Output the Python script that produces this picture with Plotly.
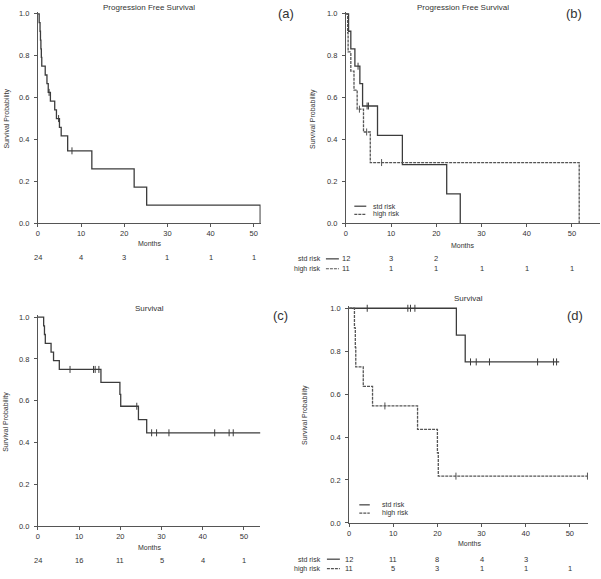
import plotly.graph_objects as go

W, H = 601, 579

# ---------------- data ----------------
# (a) progression free survival, all patients
pfs_t = [0, 0.3, 0.5, 0.6, 0.7, 0.8, 0.9, 1.7, 2.1, 2.4, 2.9, 3.9, 4.3, 5.0, 5.4, 6.9, 12.5, 22.3, 25.2, 51.5]
pfs_s = [1.0, 0.958, 0.917, 0.875, 0.833, 0.792, 0.75, 0.708, 0.667, 0.625, 0.583, 0.542, 0.5, 0.458, 0.417, 0.346, 0.26, 0.173, 0.087, 0.0]
pfs_cens_t = [2.6, 4.8, 7.9]
pfs_cens_s = [0.625, 0.5, 0.346]
pfs_risk = [24, 4, 3, 1, 1, 1]

# (b) progression free survival by risk group
pfs_std_t = [0, 0.6, 1.1, 2.0, 3.1, 3.7, 7.0, 12.5, 22.3, 25.3]
pfs_std_s = [1.0, 0.917, 0.833, 0.75, 0.667, 0.56, 0.42, 0.28, 0.14, 0.0]
pfs_std_cens_t = [2.7, 4.7, 5.0]
pfs_std_cens_s = [0.75, 0.56, 0.56]
pfs_high_t = [0, 0.4, 0.5, 1.1, 1.8, 2.5, 3.9, 5.4, 51.6]
pfs_high_s = [1.0, 0.909, 0.818, 0.727, 0.636, 0.545, 0.436, 0.29, 0.0]
pfs_high_cens_t = [3.0, 4.6, 7.9]
pfs_high_cens_s = [0.545, 0.436, 0.29]
pfs_std_risk = [12, 3, 2]
pfs_high_risk = [11, 1, 1, 1, 1, 1]

# (c) overall survival, all patients
os_t = [0, 1.4, 1.6, 1.8, 3.2, 3.8, 5.2, 15.3, 19.9, 20.1, 24.4, 26.4, 54.0]
os_s = [1.0, 0.958, 0.917, 0.875, 0.833, 0.792, 0.75, 0.688, 0.631, 0.574, 0.51, 0.447, 0.447]
os_cens_t = [7.8, 13.5, 13.9, 14.8, 24.0, 27.6, 28.8, 31.8, 42.9, 46.4, 47.4]
os_cens_s = [0.75, 0.75, 0.75, 0.75, 0.574, 0.447, 0.447, 0.447, 0.447, 0.447, 0.447]
os_risk = [24, 16, 11, 5, 4, 1]

# (d) overall survival by risk group
os_std_t = [0, 24.3, 26.3, 47.6]
os_std_s = [1.0, 0.875, 0.75, 0.75]
os_std_cens_t = [4.1, 13.3, 13.9, 14.9, 27.5, 28.8, 31.8, 42.7, 46.3, 47.0]
os_std_cens_s = [1.0, 1.0, 1.0, 1.0, 0.75, 0.75, 0.75, 0.75, 0.75, 0.75]
os_high_t = [0, 1.2, 1.4, 1.5, 3.2, 5.3, 15.5, 20.0, 20.2, 54.0]
os_high_s = [1.0, 0.909, 0.818, 0.727, 0.636, 0.545, 0.436, 0.327, 0.218, 0.218]
os_high_cens_t = [8.1, 24.2, 54.0]
os_high_cens_s = [0.545, 0.218, 0.218]
os_std_risk = [12, 11, 8, 4, 3]
os_high_risk = [11, 5, 3, 1, 1, 1]

risk_times = [0, 10, 20, 30, 40, 50]
x_ticks = [0, 10, 20, 30, 40, 50]
y_ticks = [0, 0.2, 0.4, 0.6, 0.8, 1.0]

# ---------------- styling ----------------
FONT = "Arial, Liberation Sans, sans-serif"
LINE_C = "#3c3c3c"
HIGH_C = "#555555"
AXIS_C = "#555555"
TEXT_C = "#333333"
STD_DASH = "solid"
HIGH_DASH = "3px,1px"
YTOP = 1.01


def px(x):
    return x / W


def py(y):
    return 1 - y / H


fig = go.Figure()

# panel geometry in pixels
panels = {
    1: dict(x0=36, x1=259.5, xmax=51.6, y0=224, y1=12),
    2: dict(x0=345, x1=600, xmax=56.2, y0=224, y1=12),
    3: dict(x0=36, x1=259.3, xmax=54.0, y0=530.7, y1=319),
    4: dict(x0=348.3, x1=588.3, xmax=54.2, y0=527.3, y1=310),
}

for i, p in panels.items():
    sfx = "" if i == 1 else str(i)
    ytop_px = p["y0"] - YTOP * (p["y0"] - p["y1"])
    fig.layout["xaxis" + sfx] = dict(
        domain=[px(p["x0"]), px(p["x1"])], range=[0, p["xmax"]], anchor="y" + sfx,
        tickvals=x_ticks, ticks="outside", ticklen=3, tickwidth=1, tickcolor=AXIS_C,
        showline=True, linecolor=AXIS_C, linewidth=1, showgrid=False, zeroline=False,
        tickfont=dict(size=7.5, color=TEXT_C, family=FONT), fixedrange=True,
    )
    fig.layout["yaxis" + sfx] = dict(
        domain=[py(p["y0"]), py(ytop_px)], range=[0, YTOP], anchor="x" + sfx,
        tickvals=y_ticks, tickformat=".1f", ticks="outside", ticklen=3, tickwidth=1,
        tickcolor=AXIS_C, showline=True, linecolor=AXIS_C, linewidth=1, showgrid=False,
        zeroline=False, tickfont=dict(size=7.5, color=TEXT_C, family=FONT),
        ticklabelstandoff=3, fixedrange=True,
    )


def km(t, s, xa, ya, dash, color):
    fig.add_trace(go.Scatter(x=t, y=s, mode="lines", line=dict(shape="hv", color=color, width=1.3, dash=dash),
                             xaxis=xa, yaxis=ya, showlegend=False, hoverinfo="skip"))


def cens(t, s, xa, ya, color):
    fig.add_trace(go.Scatter(x=t, y=s, mode="markers", cliponaxis=False,
                             marker=dict(symbol="line-ns", size=5, line=dict(color=color, width=1)),
                             xaxis=xa, yaxis=ya, showlegend=False, hoverinfo="skip"))


km(pfs_t, pfs_s, "x", "y", STD_DASH, LINE_C)
cens(pfs_cens_t, pfs_cens_s, "x", "y", LINE_C)

km(pfs_std_t, pfs_std_s, "x2", "y2", STD_DASH, LINE_C)
cens(pfs_std_cens_t, pfs_std_cens_s, "x2", "y2", LINE_C)
km(pfs_high_t, pfs_high_s, "x2", "y2", HIGH_DASH, HIGH_C)
cens(pfs_high_cens_t, pfs_high_cens_s, "x2", "y2", HIGH_C)

km(os_t, os_s, "x3", "y3", STD_DASH, LINE_C)
cens(os_cens_t, os_cens_s, "x3", "y3", LINE_C)

km(os_std_t, os_std_s, "x4", "y4", STD_DASH, LINE_C)
cens(os_std_cens_t, os_std_cens_s, "x4", "y4", LINE_C)
km(os_high_t, os_high_s, "x4", "y4", HIGH_DASH, HIGH_C)
cens(os_high_cens_t, os_high_cens_s, "x4", "y4", HIGH_C)

annotations = []
shapes = []


def ann(text, x, y, size=7.5, xanchor="center", xref="paper", angle=0):
    annotations.append(dict(text=text, x=(px(x) if xref == "paper" else x), y=py(y), xref=xref, yref="paper",
                            xanchor=xanchor, yanchor="middle", showarrow=False, textangle=angle,
                            borderpad=0, font=dict(size=size, color=TEXT_C, family=FONT)))


def sample(x0, x1, y, dash, color):
    shapes.append(dict(type="line", xref="paper", yref="paper", x0=px(x0), x1=px(x1), y0=py(y), y1=py(y),
                       line=dict(color=color, width=1.2, dash=dash)))


# titles
ann("Progression Free Survival", 147.5, 5.5, size=8)
ann("Progression Free Survival", 462.5, 5.5, size=8)
ann("Survival", 147.5, 310.5, size=8)
ann("Survival", 468, 300.5, size=8)
# panel letters
ann("(a)", 284.5, 12, size=13)
ann("(b)", 574, 12, size=13)
ann("(c)", 279, 317, size=13)
ann("(d)", 574.5, 317, size=13)
# axis titles
ann("Months", 147.5, 244, size=7)
ann("Months", 461.7, 246, size=7)
ann("Months", 147.5, 551.7, size=7)
ann("Months", 469, 548.3, size=7)
ann("Survival Probability", 5, 118, size=7, angle=-90)
ann("Survival Probability", 311.5, 118, size=7, angle=-90)
ann("Survival Probability", 4, 425, size=7, angle=-90)
ann("Survival Probability", 304, 418, size=7, angle=-90)

# number at risk tables
for t, n in zip(risk_times, pfs_risk):
    ann(str(n), t, 258.3, size=7.5, xref="x")
for t, n in zip(risk_times, pfs_std_risk):
    ann(str(n), t, 260, size=7.5, xref="x2")
for t, n in zip(risk_times, pfs_high_risk):
    ann(str(n), t, 270, size=7.5, xref="x2")
for t, n in zip(risk_times, os_risk):
    ann(str(n), t, 565, size=7.5, xref="x3")
for t, n in zip(risk_times, os_std_risk):
    ann(str(n), t, 564, size=7.5, xref="x4")
for t, n in zip(risk_times, os_high_risk):
    ann(str(n), t, 573.5, size=7.5, xref="x4")

ann("std risk", 321, 260, size=7, xanchor="right")
ann("high risk", 321, 270, size=7, xanchor="right")
sample(325, 338, 260, STD_DASH, LINE_C)
sample(325, 338, 270, HIGH_DASH, HIGH_C)
ann("std risk", 321, 564, size=7, xanchor="right")
ann("high risk", 321, 573.5, size=7, xanchor="right")
sample(326, 339, 564, STD_DASH, LINE_C)
sample(326, 339, 573.5, HIGH_DASH, HIGH_C)

# in-plot legends
ann("std risk", 371.5, 206.7, size=7, xanchor="left")
ann("high risk", 371.5, 215, size=7, xanchor="left")
sample(353.5, 365.5, 206.7, STD_DASH, LINE_C)
sample(353.5, 365.5, 215, HIGH_DASH, HIGH_C)
ann("std risk", 380, 509, size=7, xanchor="left")
ann("high risk", 380, 517.3, size=7, xanchor="left")
sample(358.5, 369, 509, STD_DASH, LINE_C)
sample(358.5, 369, 517.3, HIGH_DASH, HIGH_C)

fig.update_layout(
    width=W, height=H, margin=dict(l=0, r=0, t=0, b=0),
    paper_bgcolor="white", plot_bgcolor="white",
    annotations=annotations, shapes=shapes, showlegend=False,
    font=dict(family=FONT, color=TEXT_C),
)

fig.write_html("out.html", config={"displayModeBar": False, "staticPlot": True})

# remove the browser's default page margin so the figure sits at the window's corner
with open("out.html", "r", encoding="utf-8") as f:
    html = f.read()
html = html.replace("<head>", "<head><style>html,body{margin:0;padding:0;overflow:hidden;}</style>", 1)
with open("out.html", "w", encoding="utf-8") as f:
    f.write(html)
